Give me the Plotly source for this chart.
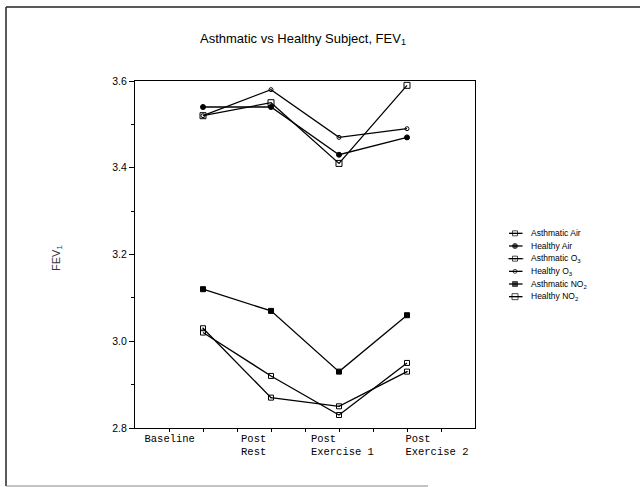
import plotly.graph_objects as go

# ---- data ----
x_positions = [1, 2, 3, 4]   # Baseline, Post Rest, Post Exercise 1, Post Exercise 2
series_names = ["Asthmatic Air", "Healthy Air", "Asthmatic O<sub>3</sub>",
                "Healthy O<sub>3</sub>", "Asthmatic NO<sub>2</sub>", "Healthy NO<sub>2</sub>"]
asthmatic_air = [3.02, 2.92, 2.83, 2.95]
healthy_air = [3.54, 3.54, 3.43, 3.47]
asthmatic_o3 = [3.03, 2.87, 2.85, 2.93]
healthy_o3 = [3.52, 3.58, 3.47, 3.49]
asthmatic_no2 = [3.12, 3.07, 2.93, 3.06]
healthy_no2 = [3.52, 3.55, 3.41, 3.59]
series_values = [asthmatic_air, healthy_air, asthmatic_o3, healthy_o3, asthmatic_no2, healthy_no2]

NB = "\u00a0"
x_tick_labels = ["Baseline", "Post<br>Rest", "Post" + NB * 6 + "<br>Exercise 1",
                 "Post" + NB * 6 + "<br>Exercise 2"]
x_label_positions = [0.51, 1.745, 3.05, 4.44]
x_minor_ticks = [0.5, 1, 1.5, 2, 2.5, 3, 3.5, 4, 4.5]
y_ticks = [2.8, 3.0, 3.2, 3.4, 3.6]
y_minor_ticks = [2.9, 3.1, 3.3, 3.5]

# ---- styles ----
symbols = ["square-open", "circle", "square-open-dot", "circle-open", "square", "square-open"]
sizes = [5, 5, 5, 4, 5, 6]

fig = go.Figure()
for name, vals, sym, sz in zip(series_names, series_values, symbols, sizes):
    fig.add_trace(go.Scatter(
        x=x_positions, y=vals, mode="lines+markers", name=name, showlegend=False,
        line=dict(color="black", width=1.3),
        marker=dict(symbol=sym, size=sz, color="black", line=dict(color="black", width=1)),
        xaxis="x", yaxis="y"))

# pixel -> paper helpers (plot area: x 135..635 paper, y 81..428)
px = lambda v: (v - 135) / 500
py = lambda v: (428 - v) / 347

# manual legend (compact spacing like the reference)
for i, (name, sym, sz) in enumerate(zip(series_names, symbols, sizes)):
    fig.add_trace(go.Scatter(
        x=[-0.6, 0, 0.75], y=[i, i, i], mode="lines+markers", showlegend=False,
        hoverinfo="skip",
        line=dict(color="black", width=1.3),
        marker=dict(symbol=sym, size=[0, sz, 0], color="black", line=dict(color="black", width=1)),
        xaxis="x2", yaxis="y2"))
    fig.add_annotation(x=px(529), y=py(233 + i * 12.75), xref="paper", yref="paper",
                       text=name, showarrow=False, xanchor="left", yanchor="middle",
                       font=dict(family="Liberation Sans, Arial", size=8.5, color="black"))

axis_font = dict(family="Liberation Sans, Arial", size=10.5, color="black")
fig.update_layout(
    width=640, height=487,
    margin=dict(l=135, r=5, t=81, b=59),
    paper_bgcolor="white", plot_bgcolor="white",
    showlegend=False,
    title=dict(text="Asthmatic vs Healthy Subject, FEV<sub>1</sub>",
               x=303 / 640, xanchor="center", y=1 - 38 / 487, yanchor="middle",
               font=dict(family="Liberation Sans, Arial", size=13, color="black")),
    xaxis=dict(domain=[0, 0.68], range=[0, 5], showgrid=False, zeroline=False,
               showline=True, linecolor="black", linewidth=1, mirror=True,
               tickmode="array", tickvals=x_label_positions, ticktext=x_tick_labels,
               ticks="", tickfont=dict(family="Liberation Mono, Courier New", size=10.5, color="black"),
               minor=dict(tickmode="array", tickvals=x_minor_ticks, ticks="outside",
                          ticklen=3, tickcolor="black", tickwidth=1, showgrid=False)),
    yaxis=dict(range=[2.8, 3.6], showgrid=False, zeroline=False,
               showline=True, linecolor="black", linewidth=1, mirror=True,
               tickmode="array", tickvals=y_ticks, tickformat=".1f",
               ticks="outside", ticklen=5, tickcolor="black", tickfont=axis_font,
               minor=dict(tickmode="array", tickvals=y_minor_ticks, ticks="outside", ticklen=3,
                          tickcolor="black", tickwidth=1, showgrid=False)),
    xaxis2=dict(domain=[0.74, 0.78], range=[-1, 1], visible=False, anchor="y2"),
    yaxis2=dict(domain=[0.3602, 0.5793], range=[5.5, -0.5], visible=False, anchor="x2"),
)

# y-axis title
fig.add_annotation(text="FEV<sub>1</sub>", x=px(57), y=py(258),
                   xref="paper", yref="paper", showarrow=False, textangle=-90,
                   xanchor="center", yanchor="middle",
                   font=dict(family="Liberation Sans, Arial", size=11, color="#333333"))

# outer frame
fig.add_shape(type="line", xref="paper", yref="paper", x0=px(6), x1=px(6), y0=py(7), y1=py(486),
              line=dict(color="#222222", width=1.5))
fig.add_shape(type="line", xref="paper", yref="paper", x0=px(6), x1=px(640), y0=py(7), y1=py(7),
              line=dict(color="#222222", width=1.5))
fig.add_shape(type="line", xref="paper", yref="paper", x0=px(6), x1=px(428), y0=py(486), y1=py(486),
              line=dict(color="#888888", width=1))

fig.write_html("out.html")
